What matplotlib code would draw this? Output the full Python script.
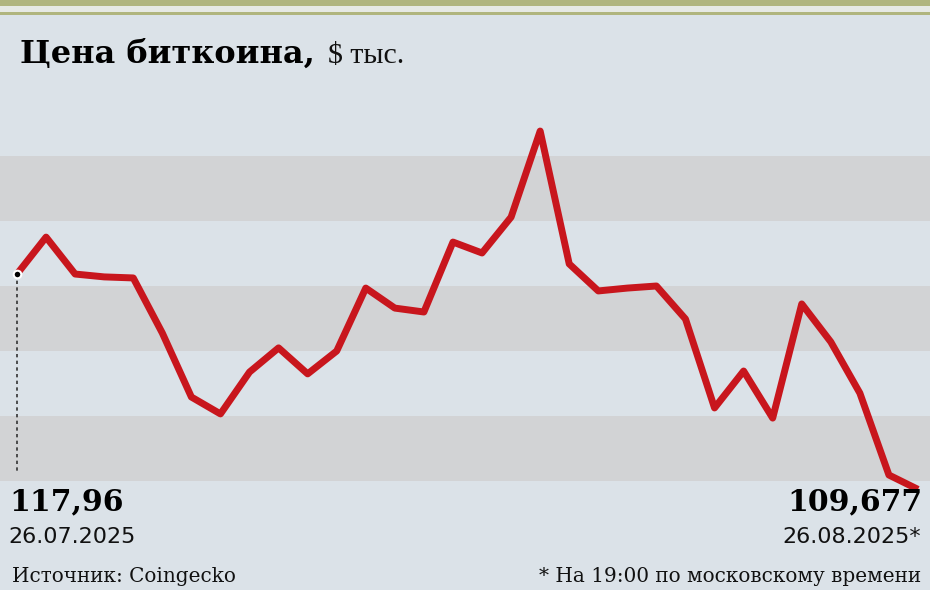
import numpy as np
import pandas as pd
import matplotlib
matplotlib.use("Agg")
from matplotlib import pyplot as plt

# bitcoin price, thousand $, daily 26.07.2025 - 26.08.2025
dates = pd.date_range("2025-07-26", "2025-08-26", freq="D")
price = [117.96, 119.38, 117.96, 117.85, 117.81, 115.69, 113.23, 112.58,
         114.19, 115.12, 114.12, 115.00, 117.42, 116.65, 116.50, 119.19,
         118.77, 120.15, 123.46, 118.35, 117.31, 117.42, 117.50, 116.23,
         112.81, 114.23, 112.42, 116.81, 115.35, 113.38, 110.23, 109.677]
band_edges = [(110.0, 112.5), (115.0, 117.5), (120.0, 122.5)]

title_bold = "Цена биткоина,"
title_unit = "$ тыс."
first_label = "117,96"
first_date = "26.07.2025"
last_label = "109,677"
last_date = "26.08.2025*"
source = "Источник: Coingecko"
note = "* На 19:00 по московскому времени"

BG = "#dbe2e8"
BAND = "#d2d3d5"
RED = "#c8161d"
OLIVE = "#b0b57e"

W, H = 930, 590
fig = plt.figure(figsize=(W / 100, H / 100), dpi=100, facecolor=BG)

# top decoration bars
fig.add_artist(plt.Rectangle((0, 1 - 6 / H), 1, 6 / H, transform=fig.transFigure,
                             color=OLIVE, lw=0))
fig.add_artist(plt.Rectangle((0, 1 - 12 / H), 1, 6 / H, transform=fig.transFigure,
                             color="#e6e9e4", lw=0))
fig.add_artist(plt.Rectangle((0, 1 - 15 / H), 1, 3 / H, transform=fig.transFigure,
                             color=OLIVE, lw=0))

# axes: pixel y 91 (125) .. 507 (109)
ax = fig.add_axes([0, (H - 507) / H, 1, 416 / H])
ax.set_facecolor(BG)
ax.set_ylim(109, 125)
step = pd.Timedelta(days=1)
ax.set_xlim(dates[0] - step * (17 / 29.06), dates[-1] + step * (12 / 29.06))
for lo, hi in band_edges:
    ax.axhspan(lo, hi, color=BAND, lw=0, zorder=0)

ax.plot(dates, price, color=RED, lw=5, solid_joinstyle="round",
        solid_capstyle="butt", zorder=3)
# dotted drop line under the first point
ax.plot([dates[0], dates[0]], [price[0], 110.3], color="#333333", lw=1.2,
        ls=(0, (2, 2)), zorder=2)
ax.scatter([dates[0]], [price[0]], s=30, color="black", edgecolor="white",
           linewidth=1.5, zorder=4)
ax.axis("off")

serif = ["DejaVu Serif"]
fig.text(20 / W, 1 - 63 / H, title_bold, fontsize=23, fontweight="heavy",
         family=serif, color="black", va="baseline")
fig.text(328 / W, 1 - 63 / H, title_unit, fontsize=21.5, family=["Liberation Serif"],
         color="#111111", va="baseline")

fig.text(9 / W, 1 - 510 / H, first_label, fontsize=21.5, fontweight="bold",
         family=serif, va="baseline")
fig.text(8 / W, 1 - 543 / H, first_date, fontsize=16, family=["DejaVu Sans"],
         va="baseline", color="#111111")
fig.text(922 / W, 1 - 510 / H, last_label, fontsize=21.5, fontweight="bold",
         family=serif, va="baseline", ha="right")
fig.text(921 / W, 1 - 543 / H, last_date, fontsize=16, family=["DejaVu Sans"],
         va="baseline", ha="right", color="#111111")

fig.text(12 / W, 1 - 582 / H, source, fontsize=14.4, family=serif,
         va="baseline", color="#111111")
fig.text(921 / W, 1 - 582 / H, note, fontsize=14.4, family=serif,
         va="baseline", ha="right", color="#111111")

fig.savefig("out.png", dpi=100, facecolor=BG)
